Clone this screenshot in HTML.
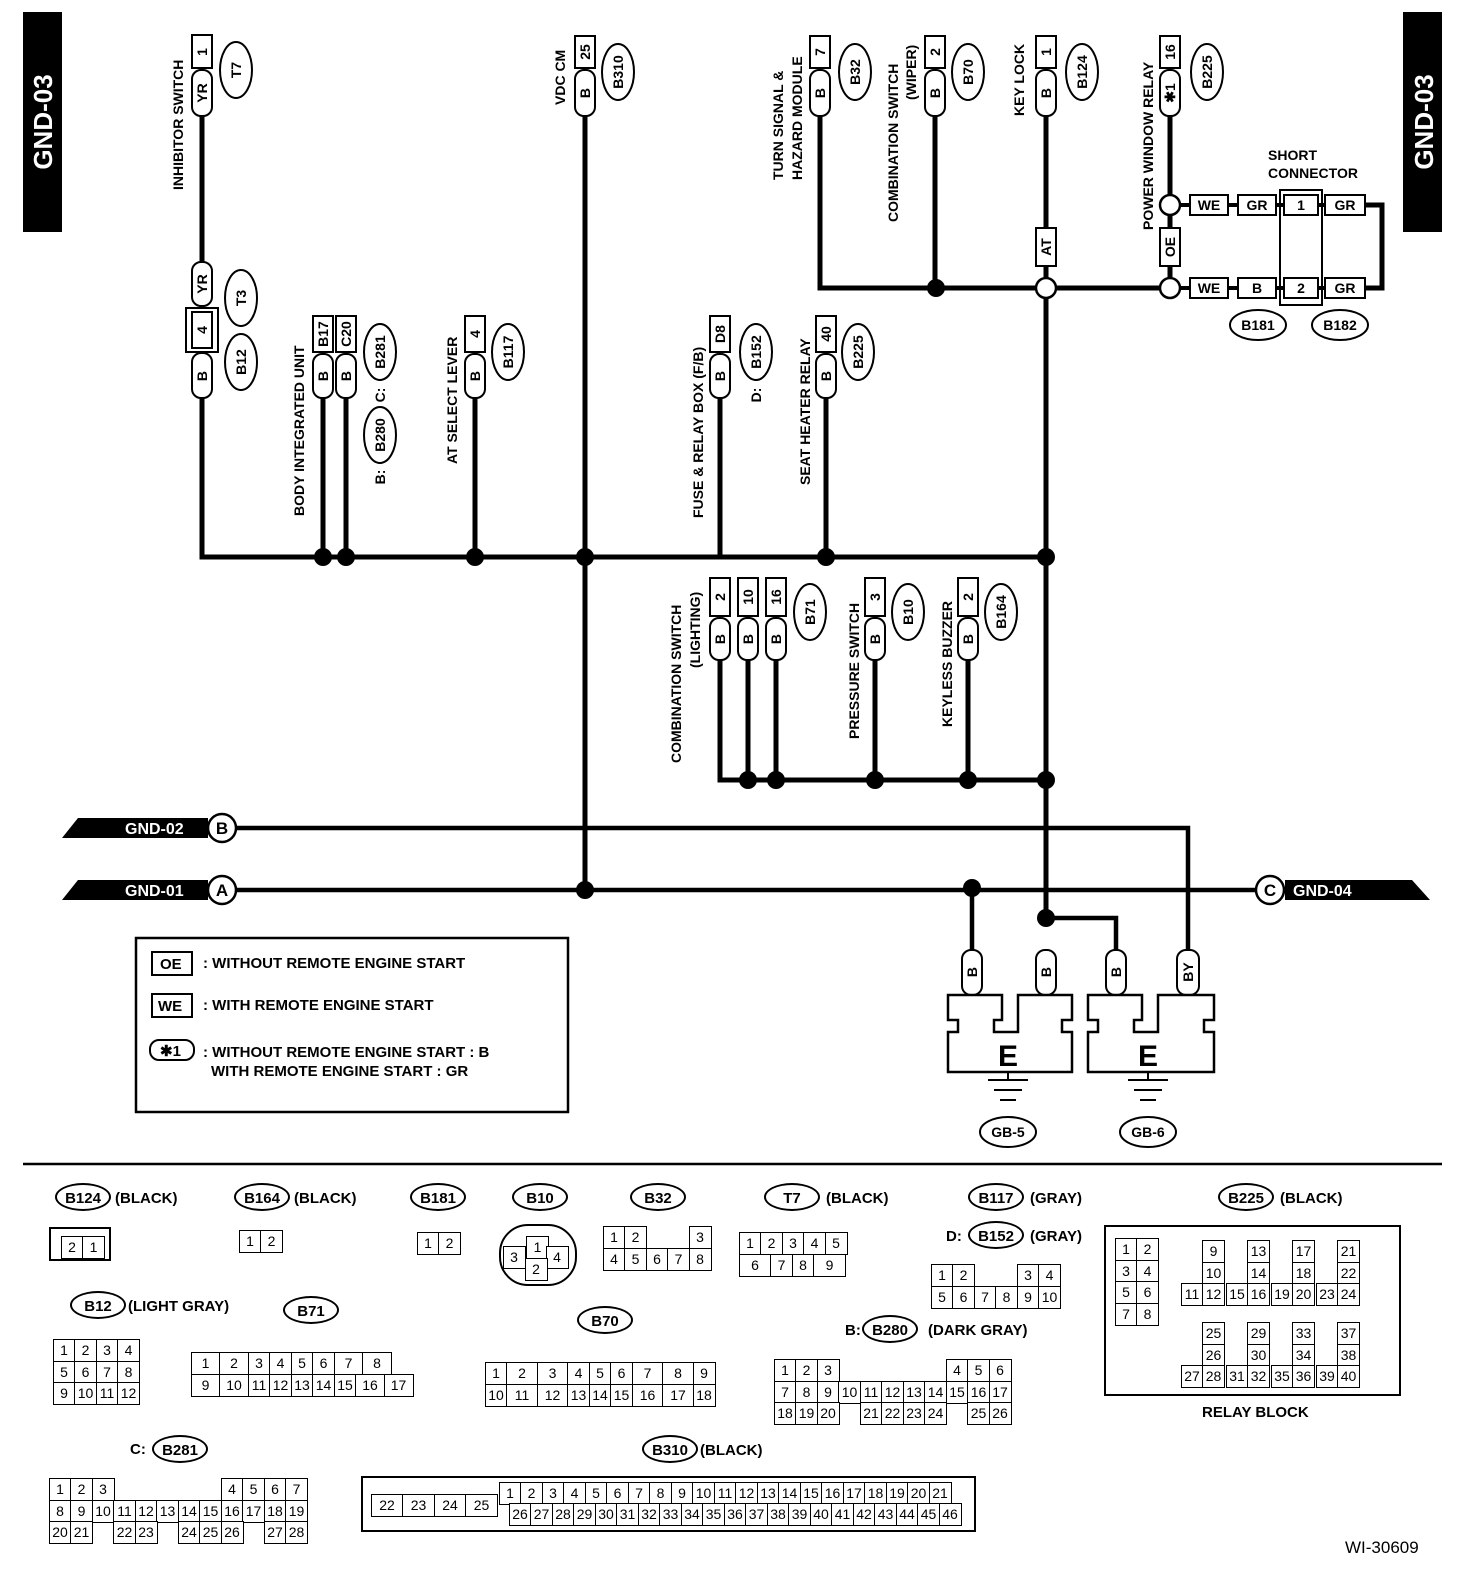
<!DOCTYPE html>
<html><head><meta charset="utf-8"><style>
body{margin:0;background:#fff;width:1472px;height:1578px;position:relative;overflow:hidden;font-family:"Liberation Sans",sans-serif;font-weight:bold}
svg{position:absolute;left:0;top:0}
svg text{font-family:"Liberation Sans",sans-serif;font-weight:bold}
.g{position:absolute;display:flex;flex-direction:column}
.r{display:flex;height:21.5px}
.r span{width:23px;height:23px;border:1.5px solid #000;margin:0 0 -1.5px -1.5px;font-size:14px;font-weight:normal;text-align:center;line-height:20px;box-sizing:border-box;background:#fff}
.r span.x{border:none;background:transparent}
.t{position:absolute;font-size:15px;white-space:nowrap}
.el{position:absolute;border:2px solid #000;border-radius:50%;height:28px;width:56px;text-align:center;line-height:28px;font-size:15px;box-sizing:border-box}
</style></head><body>
<svg width="1472" height="1578" viewBox="0 0 1472 1578">
<g fill="#000">
<rect x="23" y="12" width="39" height="220"/><rect x="1403" y="12" width="39" height="220"/>
</g>
<text transform="translate(52,122) rotate(-90)" text-anchor="middle" fill="#fff" font-size="26">GND-03</text>
<text transform="translate(1433,122) rotate(-90)" text-anchor="middle" fill="#fff" font-size="26">GND-03</text>
<g stroke="#000" stroke-width="5" fill="none">
<path d="M202 115V557H1046"/><path d="M323 398V557M346 398V557M475 398V557"/>
<path d="M585 115V890"/><path d="M820 115V288H1170M935 115V288M1046 115V918"/>
<path d="M1170 115V288"/><path d="M720 398V557M826 398V557"/>
<path d="M720 660V780H1046M748 660V780M776 660V780M875 660V780M968 660V780"/>
<path d="M1365 205H1382V288H1365"/>
</g>
<g stroke="#000" stroke-width="4.5" fill="none">
<path d="M235 828H1188V952"/><path d="M236 890H1256M1284 890H1300"/>
<path d="M972 888V952M1046 918H1116V952"/>
</g>
<g fill="#000">
<circle cx="323" cy="557" r="9"/><circle cx="346" cy="557" r="9"/><circle cx="475" cy="557" r="9"/><circle cx="585" cy="557" r="9"/><circle cx="826" cy="557" r="9"/><circle cx="1046" cy="557" r="9"/><circle cx="936" cy="288" r="9"/><circle cx="748" cy="780" r="9"/><circle cx="776" cy="780" r="9"/><circle cx="875" cy="780" r="9"/><circle cx="968" cy="780" r="9"/><circle cx="1046" cy="780" r="9"/><circle cx="585" cy="890" r="9"/><circle cx="972" cy="888" r="9"/><circle cx="1046" cy="918" r="9"/>
<path d="M78 818H208V838H62Z"/><path d="M78 880H208V900H62Z"/><path d="M1285 880H1412L1430 900H1285Z"/>
</g>
<g fill="#fff" stroke="#000" stroke-width="2.5">
<circle cx="1046" cy="288" r="10"/><circle cx="1170" cy="205" r="10"/><circle cx="1170" cy="288" r="10"/>
<circle cx="222" cy="828" r="14"/><circle cx="222" cy="890" r="14"/><circle cx="1270" cy="890" r="14"/>
</g>
<g font-size="17" text-anchor="middle"><text x="222" y="834">B</text><text x="222" y="896">A</text><text x="1270" y="896">C</text></g>
<g font-size="16" fill="#fff" font-weight="normal"><text x="125" y="834">GND-02</text><text x="125" y="896">GND-01</text><text x="1293" y="896">GND-04</text></g>
<g fill="#fff" stroke="#000" stroke-width="2">
<rect x="192" y="35" width="20" height="33"/><rect x="192" y="70" width="20" height="46" rx="9"/>
<rect x="192" y="262" width="20" height="44" rx="9"/><rect x="186" y="308" width="32" height="44"/><rect x="192" y="312" width="20" height="36"/><rect x="192" y="353" width="20" height="45" rx="9"/>
<rect x="313" y="316" width="20" height="36"/><rect x="313" y="354" width="20" height="44" rx="9"/>
<rect x="336" y="316" width="20" height="36"/><rect x="336" y="354" width="20" height="44" rx="9"/>
<rect x="465" y="316" width="20" height="36"/><rect x="465" y="354" width="20" height="44" rx="9"/>
<rect x="575" y="36" width="20" height="32"/><rect x="575" y="70" width="20" height="46" rx="9"/>
<rect x="810" y="36" width="20" height="32"/><rect x="810" y="70" width="20" height="46" rx="9"/>
<rect x="925" y="36" width="20" height="32"/><rect x="925" y="70" width="20" height="46" rx="9"/>
<rect x="1036" y="36" width="20" height="32"/><rect x="1036" y="70" width="20" height="46" rx="9"/><rect x="1036" y="228" width="20" height="38"/>
<rect x="1160" y="36" width="20" height="32"/><rect x="1160" y="70" width="20" height="46" rx="9"/><rect x="1160" y="228" width="20" height="38"/>
<rect x="710" y="316" width="20" height="36"/><rect x="710" y="354" width="20" height="44" rx="9"/>
<rect x="816" y="316" width="20" height="36"/><rect x="816" y="354" width="20" height="44" rx="9"/>
<rect x="710" y="578" width="20" height="38"/><rect x="710" y="618" width="20" height="42" rx="9"/>
<rect x="738" y="578" width="20" height="38"/><rect x="738" y="618" width="20" height="42" rx="9"/>
<rect x="766" y="578" width="20" height="38"/><rect x="766" y="618" width="20" height="42" rx="9"/>
<rect x="865" y="578" width="20" height="38"/><rect x="865" y="618" width="20" height="42" rx="9"/>
<rect x="958" y="578" width="20" height="38"/><rect x="958" y="618" width="20" height="42" rx="9"/>
<rect x="962" y="950" width="20" height="45" rx="9"/><rect x="1036" y="950" width="20" height="45" rx="9"/><rect x="1106" y="950" width="20" height="45" rx="9"/><rect x="1177" y="950" width="22" height="45" rx="9"/>
<rect x="1190" y="195" width="38" height="20"/><rect x="1238" y="195" width="38" height="20"/><rect x="1325" y="195" width="40" height="20"/>
<rect x="1190" y="278" width="38" height="20"/><rect x="1238" y="278" width="38" height="20"/><rect x="1325" y="278" width="40" height="20"/>
<rect x="1280" y="190" width="42" height="115"/><rect x="1284" y="195" width="34" height="20"/><rect x="1284" y="278" width="34" height="20"/>
</g>
<path d="M1180 205H1190M1228 205H1238M1276 205H1284M1318 205H1325M1180 288H1190M1228 288H1238M1276 288H1284M1318 288H1325" stroke="#000" stroke-width="4"/>
<g font-size="14" text-anchor="middle">
<text x="1209" y="210">WE</text><text x="1257" y="210">GR</text><text x="1301" y="210">1</text><text x="1345" y="210">GR</text>
<text x="1209" y="293">WE</text><text x="1257" y="293">B</text><text x="1301" y="293">2</text><text x="1345" y="293">GR</text>
<text x="1268" y="160" text-anchor="start">SHORT</text><text x="1268" y="178" text-anchor="start">CONNECTOR</text>
</g>
<g font-size="14" text-anchor="middle">
<text transform="translate(207,52) rotate(-90)">1</text><text transform="translate(207,93) rotate(-90)">YR</text>
<text transform="translate(207,284) rotate(-90)">YR</text><text transform="translate(207,330) rotate(-90)">4</text><text transform="translate(207,376) rotate(-90)">B</text>
<text transform="translate(328,334) rotate(-90)">B17</text><text transform="translate(328,376) rotate(-90)">B</text>
<text transform="translate(351,334) rotate(-90)">C20</text><text transform="translate(351,376) rotate(-90)">B</text>
<text transform="translate(480,334) rotate(-90)">4</text><text transform="translate(480,376) rotate(-90)">B</text>
<text transform="translate(590,52) rotate(-90)">25</text><text transform="translate(590,93) rotate(-90)">B</text>
<text transform="translate(825,52) rotate(-90)">7</text><text transform="translate(825,93) rotate(-90)">B</text>
<text transform="translate(940,52) rotate(-90)">2</text><text transform="translate(940,93) rotate(-90)">B</text>
<text transform="translate(1051,52) rotate(-90)">1</text><text transform="translate(1051,93) rotate(-90)">B</text><text transform="translate(1051,247) rotate(-90)">AT</text>
<text transform="translate(1175,52) rotate(-90)">16</text><text transform="translate(1175,93) rotate(-90)">✱1</text><text transform="translate(1175,247) rotate(-90)">OE</text>
<text transform="translate(725,334) rotate(-90)">D8</text><text transform="translate(725,376) rotate(-90)">B</text>
<text transform="translate(831,334) rotate(-90)">40</text><text transform="translate(831,376) rotate(-90)">B</text>
<text transform="translate(725,597) rotate(-90)">2</text><text transform="translate(725,639) rotate(-90)">B</text>
<text transform="translate(753,597) rotate(-90)">10</text><text transform="translate(753,639) rotate(-90)">B</text>
<text transform="translate(781,597) rotate(-90)">16</text><text transform="translate(781,639) rotate(-90)">B</text>
<text transform="translate(880,597) rotate(-90)">3</text><text transform="translate(880,639) rotate(-90)">B</text>
<text transform="translate(973,597) rotate(-90)">2</text><text transform="translate(973,639) rotate(-90)">B</text>
<text transform="translate(977,972) rotate(-90)">B</text><text transform="translate(1051,972) rotate(-90)">B</text><text transform="translate(1121,972) rotate(-90)">B</text><text transform="translate(1193,972) rotate(-90)">BY</text>
</g>
<g fill="#fff" stroke="#000" stroke-width="2">
<ellipse cx="236" cy="70" rx="16" ry="28"/><ellipse cx="618" cy="72" rx="16" ry="28"/><ellipse cx="855" cy="72" rx="16" ry="28"/><ellipse cx="968" cy="72" rx="16" ry="28"/><ellipse cx="1082" cy="72" rx="16" ry="28"/><ellipse cx="1207" cy="72" rx="16" ry="28"/>
<ellipse cx="241" cy="298" rx="16" ry="28"/><ellipse cx="241" cy="362" rx="16" ry="28"/><ellipse cx="380" cy="352" rx="16" ry="28"/><ellipse cx="380" cy="435" rx="16" ry="28"/>
<ellipse cx="508" cy="352" rx="16" ry="28"/><ellipse cx="756" cy="352" rx="16" ry="28"/><ellipse cx="858" cy="352" rx="16" ry="28"/>
<ellipse cx="810" cy="612" rx="16" ry="28"/><ellipse cx="908" cy="612" rx="16" ry="28"/><ellipse cx="1001" cy="612" rx="16" ry="28"/>
<ellipse cx="1258" cy="325" rx="28" ry="15"/><ellipse cx="1340" cy="325" rx="28" ry="15"/>
<ellipse cx="1008" cy="1132" rx="28" ry="15"/><ellipse cx="1148" cy="1132" rx="28" ry="15"/>
</g>
<g font-size="14" text-anchor="middle">
<text transform="translate(241,70) rotate(-90)">T7</text><text transform="translate(623,72) rotate(-90)">B310</text><text transform="translate(860,72) rotate(-90)">B32</text><text transform="translate(973,72) rotate(-90)">B70</text><text transform="translate(1087,72) rotate(-90)">B124</text><text transform="translate(1212,72) rotate(-90)">B225</text>
<text transform="translate(246,298) rotate(-90)">T3</text><text transform="translate(246,362) rotate(-90)">B12</text><text transform="translate(385,352) rotate(-90)">B281</text><text transform="translate(385,435) rotate(-90)">B280</text>
<text transform="translate(513,352) rotate(-90)">B117</text><text transform="translate(761,352) rotate(-90)">B152</text><text transform="translate(863,352) rotate(-90)">B225</text>
<text transform="translate(815,612) rotate(-90)">B71</text><text transform="translate(913,612) rotate(-90)">B10</text><text transform="translate(1006,612) rotate(-90)">B164</text>
<text x="1258" y="330">B181</text><text x="1340" y="330">B182</text><text x="1008" y="1137">GB-5</text><text x="1148" y="1137">GB-6</text>
<text transform="translate(385,395) rotate(-90)">C:</text><text transform="translate(385,477) rotate(-90)">B:</text><text transform="translate(761,395) rotate(-90)">D:</text>
</g>
<g font-size="14">
<text transform="translate(183,190) rotate(-90)">INHIBITOR SWITCH</text>
<text transform="translate(565,105) rotate(-90)">VDC CM</text>
<text transform="translate(783,180) rotate(-90)">TURN SIGNAL &amp;</text>
<text transform="translate(802,180) rotate(-90)">HAZARD MODULE</text>
<text transform="translate(898,222) rotate(-90)">COMBINATION SWITCH</text>
<text transform="translate(916,100) rotate(-90)">(WIPER)</text>
<text transform="translate(1024,116) rotate(-90)">KEY LOCK</text>
<text transform="translate(1153,230) rotate(-90)">POWER WINDOW RELAY</text>
<text transform="translate(304,516) rotate(-90)">BODY INTEGRATED UNIT</text>
<text transform="translate(457,464) rotate(-90)">AT SELECT LEVER</text>
<text transform="translate(703,518) rotate(-90)">FUSE &amp; RELAY BOX (F/B)</text>
<text transform="translate(810,485) rotate(-90)">SEAT HEATER RELAY</text>
<text transform="translate(681,763) rotate(-90)">COMBINATION SWITCH</text>
<text transform="translate(700,668) rotate(-90)">(LIGHTING)</text>
<text transform="translate(859,739) rotate(-90)">PRESSURE SWITCH</text>
<text transform="translate(952,727) rotate(-90)">KEYLESS BUZZER</text>
</g>
<g fill="#fff" stroke="#000" stroke-width="2.5">
<path d="M948 995H1002V1020H994V1032H1018V1020H1018V995H1072V1020H1062V1032H1072V1072H948V1032H958V1020H948Z"/>
<path d="M1088 995H1142V1020H1134V1032H1158V995H1214V1020H1204V1032H1214V1072H1088V1032H1098V1020H1088Z"/>
</g>
<g font-size="30" text-anchor="middle"><text x="1008" y="1066">E</text><text x="1148" y="1066">E</text></g>
<g stroke="#000" stroke-width="2"><path d="M1008 1072V1080M988 1080H1028M994 1090H1022M1000 1100H1016M1148 1072V1080M1128 1080H1168M1134 1090H1162M1140 1100H1156"/></g>
<rect x="136" y="938" width="432" height="174" fill="none" stroke="#000" stroke-width="2.5"/>
<rect x="152" y="952" width="40" height="23" fill="none" stroke="#000" stroke-width="2"/>
<rect x="152" y="994" width="40" height="23" fill="none" stroke="#000" stroke-width="2"/>
<rect x="150" y="1040" width="44" height="20" rx="9" fill="none" stroke="#000" stroke-width="2"/>
<g font-size="15"><text x="160" y="969">OE</text><text x="158" y="1011">WE</text><text x="160" y="1056">✱1</text>
<text x="203" y="968">: WITHOUT REMOTE ENGINE START</text><text x="203" y="1010">: WITH REMOTE ENGINE START</text>
<text x="203" y="1057">: WITHOUT REMOTE ENGINE START  : B</text><text x="211" y="1076">WITH REMOTE ENGINE START    : GR</text></g>
<path d="M23 1164H1442" stroke="#000" stroke-width="2.5"/>
<rect x="1105" y="1226" width="295" height="169" fill="none" stroke="#000" stroke-width="2"/>
<rect x="500" y="1225" width="76" height="60" rx="28" fill="none" stroke="#000" stroke-width="2"/>
<rect x="50" y="1228" width="60" height="32" fill="none" stroke="#000" stroke-width="2"/>
<rect x="362" y="1477" width="613" height="54" fill="none" stroke="#000" stroke-width="2"/>
</svg>
<div class="el" style="left:55px;top:1183px">B124</div><div class="t" style="left:115px;top:1190px">(BLACK)</div>
<div class="el" style="left:234px;top:1183px">B164</div><div class="t" style="left:294px;top:1190px">(BLACK)</div>
<div class="el" style="left:410px;top:1183px">B181</div>
<div class="el" style="left:512px;top:1183px">B10</div>
<div class="el" style="left:630px;top:1183px">B32</div>
<div class="el" style="left:764px;top:1183px">T7</div><div class="t" style="left:826px;top:1190px">(BLACK)</div>
<div class="el" style="left:968px;top:1183px">B117</div><div class="t" style="left:1030px;top:1190px">(GRAY)</div>
<div class="t" style="left:946px;top:1228px">D:</div><div class="el" style="left:968px;top:1221px">B152</div><div class="t" style="left:1030px;top:1228px">(GRAY)</div>
<div class="el" style="left:1218px;top:1183px">B225</div><div class="t" style="left:1280px;top:1190px">(BLACK)</div>
<div class="el" style="left:70px;top:1291px">B12</div><div class="t" style="left:128px;top:1298px">(LIGHT GRAY)</div>
<div class="el" style="left:283px;top:1296px">B71</div>
<div class="el" style="left:577px;top:1306px">B70</div>
<div class="t" style="left:845px;top:1322px">B:</div><div class="el" style="left:862px;top:1315px">B280</div><div class="t" style="left:928px;top:1322px">(DARK GRAY)</div>
<div class="t" style="left:130px;top:1441px">C:</div><div class="el" style="left:152px;top:1435px">B281</div>
<div class="el" style="left:642px;top:1435px">B310</div><div class="t" style="left:700px;top:1442px">(BLACK)</div>
<div class="t" style="left:1202px;top:1404px">RELAY BLOCK</div>
<div class="t" style="left:1345px;top:1538px;font-weight:normal;font-size:17px">WI-30609</div>

<div class="g" style="left:62px;top:1236px"><div class="r"><span>2</span><span>1</span></div></div>
<div class="g" style="left:240px;top:1230px"><div class="r"><span>1</span><span>2</span></div></div>
<div class="g" style="left:418px;top:1232px"><div class="r"><span>1</span><span>2</span></div></div>
<div class="g" style="left:506px;top:1236px"><div class="r"><span class="x"></span><span>1</span></div></div>
<div class="g" style="left:504px;top:1246px"><div class="r"><span>3</span><span class="x"></span><span>4</span></div></div>
<div class="g" style="left:526px;top:1258px"><div class="r"><span>2</span></div></div>
<div class="g" style="left:604px;top:1226px"><div class="r"><span>1</span><span>2</span><span class="x"></span><span class="x"></span><span>3</span></div><div class="r"><span>4</span><span>5</span><span>6</span><span>7</span><span>8</span></div></div>
<div class="g" style="left:740px;top:1232px"><div class="r"><span>1</span><span>2</span><span>3</span><span>4</span><span>5</span></div><div class="r"><span style="width:33px">6</span><span>7</span><span>8</span><span style="width:33px">9</span></div></div>
<div class="g" style="left:932px;top:1264px"><div class="r"><span>1</span><span>2</span><span class="x"></span><span class="x"></span><span>3</span><span>4</span></div><div class="r"><span>5</span><span>6</span><span>7</span><span>8</span><span>9</span><span>10</span></div></div>
<div class="g" style="left:1116px;top:1238px"><div class="r"><span>1</span><span>2</span></div><div class="r"><span>3</span><span>4</span></div><div class="r"><span>5</span><span>6</span></div><div class="r"><span>7</span><span>8</span></div></div>
<div class="g" style="left:1182px;top:1240px"><div class="r"><span class="x"></span><span>9</span></div><div class="r"><span class="x"></span><span>10</span></div><div class="r"><span>11</span><span>12</span></div></div>
<div class="g" style="left:1227px;top:1240px"><div class="r"><span class="x"></span><span>13</span></div><div class="r"><span class="x"></span><span>14</span></div><div class="r"><span>15</span><span>16</span></div></div>
<div class="g" style="left:1272px;top:1240px"><div class="r"><span class="x"></span><span>17</span></div><div class="r"><span class="x"></span><span>18</span></div><div class="r"><span>19</span><span>20</span></div></div>
<div class="g" style="left:1317px;top:1240px"><div class="r"><span class="x"></span><span>21</span></div><div class="r"><span class="x"></span><span>22</span></div><div class="r"><span>23</span><span>24</span></div></div>
<div class="g" style="left:1182px;top:1322px"><div class="r"><span class="x"></span><span>25</span></div><div class="r"><span class="x"></span><span>26</span></div><div class="r"><span>27</span><span>28</span></div></div>
<div class="g" style="left:1227px;top:1322px"><div class="r"><span class="x"></span><span>29</span></div><div class="r"><span class="x"></span><span>30</span></div><div class="r"><span>31</span><span>32</span></div></div>
<div class="g" style="left:1272px;top:1322px"><div class="r"><span class="x"></span><span>33</span></div><div class="r"><span class="x"></span><span>34</span></div><div class="r"><span>35</span><span>36</span></div></div>
<div class="g" style="left:1317px;top:1322px"><div class="r"><span class="x"></span><span>37</span></div><div class="r"><span class="x"></span><span>38</span></div><div class="r"><span>39</span><span>40</span></div></div>
<div class="g" style="left:54px;top:1339px"><div class="r"><span>1</span><span>2</span><span>3</span><span>4</span></div><div class="r"><span>5</span><span>6</span><span>7</span><span>8</span></div><div class="r"><span>9</span><span>10</span><span>11</span><span>12</span></div></div>
<div class="g" style="left:192px;top:1352px"><div class="r"><span style="width:30px">1</span><span style="width:30px">2</span><span>3</span><span>4</span><span>5</span><span>6</span><span style="width:30px">7</span><span style="width:30px">8</span></div><div class="r"><span style="width:30px">9</span><span style="width:30px">10</span><span>11</span><span>12</span><span>13</span><span>14</span><span>15</span><span style="width:30px">16</span><span style="width:30px">17</span></div></div>
<div class="g" style="left:486px;top:1362px"><div class="r"><span>1</span><span style="width:32px">2</span><span style="width:32px">3</span><span>4</span><span>5</span><span>6</span><span style="width:32px">7</span><span style="width:32px">8</span><span>9</span></div><div class="r"><span>10</span><span style="width:32px">11</span><span style="width:32px">12</span><span>13</span><span>14</span><span>15</span><span style="width:32px">16</span><span style="width:32px">17</span><span>18</span></div></div>
<div class="g" style="left:775px;top:1359px"><div class="r"><span>1</span><span>2</span><span>3</span><span class="x"></span><span class="x"></span><span class="x"></span><span class="x"></span><span class="x"></span><span>4</span><span>5</span><span>6</span></div><div class="r"><span>7</span><span>8</span><span>9</span><span>10</span><span>11</span><span>12</span><span>13</span><span>14</span><span>15</span><span>16</span><span>17</span></div><div class="r"><span>18</span><span>19</span><span>20</span><span class="x"></span><span>21</span><span>22</span><span>23</span><span>24</span><span class="x"></span><span>25</span><span>26</span></div></div>
<div class="g" style="left:50px;top:1478px"><div class="r"><span>1</span><span>2</span><span>3</span><span class="x"></span><span class="x"></span><span class="x"></span><span class="x"></span><span class="x"></span><span>4</span><span>5</span><span>6</span><span>7</span></div><div class="r"><span>8</span><span>9</span><span>10</span><span>11</span><span>12</span><span>13</span><span>14</span><span>15</span><span>16</span><span>17</span><span>18</span><span>19</span></div><div class="r"><span>20</span><span>21</span><span class="x"></span><span>22</span><span>23</span><span class="x"></span><span>24</span><span>25</span><span>26</span><span class="x"></span><span>27</span><span>28</span></div></div>
<div class="g" style="left:372px;top:1494px"><div class="r"><span style="width:33px">22</span><span style="width:33px">23</span><span style="width:33px">24</span><span style="width:33px">25</span></div></div>
<div class="g" style="left:500px;top:1482px"><div class="r"><span>1</span><span>2</span><span>3</span><span>4</span><span>5</span><span>6</span><span>7</span><span>8</span><span>9</span><span>10</span><span>11</span><span>12</span><span>13</span><span>14</span><span>15</span><span>16</span><span>17</span><span>18</span><span>19</span><span>20</span><span>21</span></div></div>
<div class="g" style="left:510px;top:1503px"><div class="r"><span>26</span><span>27</span><span>28</span><span>29</span><span>30</span><span>31</span><span>32</span><span>33</span><span>34</span><span>35</span><span>36</span><span>37</span><span>38</span><span>39</span><span>40</span><span>41</span><span>42</span><span>43</span><span>44</span><span>45</span><span>46</span></div></div>
</body></html>
